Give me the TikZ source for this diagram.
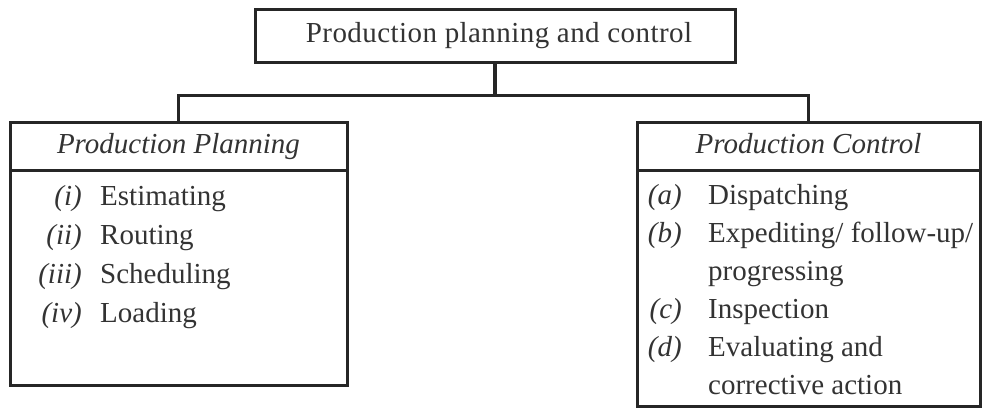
\documentclass[tikz,border=0pt]{standalone}
\usepackage{fontspec}
\setmainfont{Liberation Serif}
\begin{document}
\begin{tikzpicture}[x=1pt,y=-1pt,
  frame/.style={draw=black!85, line width=3pt, inner sep=0pt},
  link/.style={draw=black!85, line width=3pt},
  txt/.style={text=black!80, font=\fontsize{29}{33}\selectfont, inner sep=0pt},
  lab/.style={txt, font=\fontsize{29}{33}\selectfont\itshape, anchor=base east},
  item/.style={txt, anchor=base west},
  head/.style={txt, font=\fontsize{29}{33}\selectfont\itshape, anchor=base}]
\useasboundingbox (0,0) rectangle (992,409);

% top box
\node[frame, minimum width=480pt, minimum height=53pt] (top) at (495,36.5) {};
\node[txt, anchor=base, font=\fontsize{29}{33}\selectfont\addfontfeature{LetterSpace=1.5}] (toptxt) at (499,43) {Production planning and control};

% planning box
\node[frame, minimum width=337pt, minimum height=263pt] (lbox) at (178.5,253.5) {};
\draw[link] (10,170) -- (347,170);
\node[head] (lhead) at (178.5,153) {Production Planning};
\node[lab] (li) at (82,205) {(i)};
\node[item] (lit) at (100,205) {Estimating};
\node[lab] (lii) at (82,244) {(ii)};
\node[item] (liit) at (100,244) {Routing};
\node[lab] (liii) at (82,283) {(iii)};
\node[item] (liiit) at (100,283) {Scheduling};
\node[lab] (liv) at (82,322) {(iv)};
\node[item] (livt) at (100,322) {Loading};

% control box
\node[frame, minimum width=343pt, minimum height=284pt] (rbox) at (808.5,264) {};
\draw[link] (637,170) -- (980,170);
\node[head] (rhead) at (808.5,153) {Production Control};
\node[lab] (ra) at (682,204) {(a)};
\node[item] (rat) at (708,204) {Dispatching};
\node[lab] (rb) at (682,242) {(b)};
\node[item] (rbt) at (708,242) {Expediting/ follow-up/};
\node[item] (rbt2) at (708,280) {progressing};
\node[lab] (rc) at (682,318) {(c)};
\node[item] (rct) at (708,318) {Inspection};
\node[lab] (rd) at (682,356) {(d)};
\node[item] (rdt) at (708,356) {Evaluating and};
\node[item] (rdt2) at (708,394) {corrective action};

% connectors
\coordinate (bus) at (495,96);
\draw[link, line width=4pt] (top.south) -- (bus);
\draw[link] (lbox.north) |- (bus) -| (rbox.north);
\end{tikzpicture}
\end{document}
